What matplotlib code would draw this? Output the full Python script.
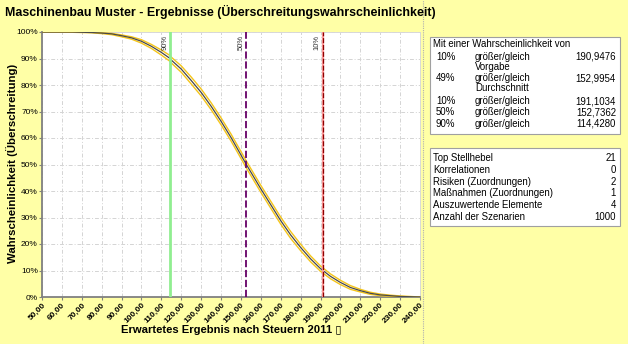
import matplotlib.pyplot as plt
from matplotlib.patches import Rectangle
from matplotlib.lines import Line2D
from matplotlib.ticker import FuncFormatter

plt.rcParams['font.family'] = ['Liberation Sans', 'DejaVu Sans']

# Exceedance curve (result vs. probability in %)
result = [50, 55, 60, 65, 70, 75, 80, 85, 90, 95, 100, 105, 110, 114.4, 115, 120,
          125, 130, 135, 140, 145, 150, 152.7, 155, 160, 165, 170, 175, 180, 185,
          190, 195, 200, 205, 210, 215, 220, 225, 230, 235, 240]
prob = [100, 100, 100, 100, 99.9, 99.8, 99.6, 99.3, 98.6, 97.8, 96.5, 94.6, 92.3,
        90.0, 89.4, 86.0, 81.7, 77.2, 72.0, 66.3, 60.2, 53.6, 50.0, 47.1, 40.8,
        34.8, 28.8, 23.4, 18.7, 14.4, 10.7, 7.8, 5.5, 3.6, 2.4, 1.4, 0.8, 0.5,
        0.2, 0.1, 0.0]
prob_upper = [100, 100, 100, 100, 100, 99.9, 99.7, 99.5, 98.9, 98.2, 97.1, 95.3,
              93.2, 91.1, 90.5, 87.2, 83.0, 78.5, 73.3, 67.6, 61.5, 54.9, 51.3,
              48.4, 42.1, 36.1, 30.1, 24.7, 19.9, 15.5, 11.7, 8.7, 6.3, 4.3, 2.9,
              1.8, 1.1, 0.7, 0.4, 0.2, 0.0]
prob_lower = [100, 100, 100, 99.9, 99.8, 99.7, 99.4, 99.0, 98.2, 97.3, 95.8, 93.8,
              91.3, 88.9, 88.3, 84.8, 80.4, 75.9, 70.7, 65.0, 58.9, 52.3, 48.7,
              45.8, 39.5, 33.5, 27.5, 22.1, 17.5, 13.3, 9.7, 6.9, 4.7, 2.9, 1.9,
              1.0, 0.5, 0.3, 0.1, 0.0, 0.0]

# Quantile markers
q_values = [114.4280, 152.7362, 191.1034]
q_labels = ['90%', '50%', '10%']

x_ticks = list(range(50, 250, 10))
y_ticks = list(range(0, 110, 10))

# Info boxes
prob_rows = [
    ('10%', 'größer/gleich', '190,9476'),
    ('', 'Vorgabe', ''),
    ('49%', 'größer/gleich', '152,9954'),
    ('', 'Durchschnitt', ''),
    ('10%', 'größer/gleich', '191,1034'),
    ('50%', 'größer/gleich', '152,7362'),
    ('90%', 'größer/gleich', '114,4280'),
]
stat_names = ['Top Stellhebel', 'Korrelationen', 'Risiken (Zuordnungen)',
              'Maßnahmen (Zuordnungen)', 'Auszuwertende Elemente', 'Anzahl der Szenarien']
stat_values = ['21', '0', '2', '1', '4', '1000']

bg = '#ffffa6'
W, H = 628, 344
fig = plt.figure(figsize=(W / 100, H / 100), dpi=100, facecolor=bg)


def fx(px):
    return px / W


def fy(py):
    return 1 - py / H


ax = fig.add_axes([fx(42), fy(297), fx(420) - fx(42), fy(32) - fy(297)])
ax.set_facecolor('white')

for xv in x_ticks:
    ax.axvline(xv, color='#d4d4d4', lw=0.7, ls=(0, (4, 2, 1, 2)), zorder=0)
for yv in y_ticks:
    ax.axhline(yv, color='#d4d4d4', lw=0.7, ls=(0, (4, 2, 1, 2)), zorder=0)

ax.plot(result, prob_upper, color='#f5c518', lw=1.0, zorder=3)
ax.plot(result, prob_lower, color='#f5c518', lw=1.0, zorder=3)
ax.plot(result, prob, color='#4a4a4a', lw=0.9, zorder=4)

ax.axvline(q_values[0], color='#90ee90', lw=2.0, zorder=5)
ax.axvline(q_values[1], color='#660066', lw=1.3, ls=(0, (4, 1.5)), zorder=5)
ax.axvline(q_values[2], color='#ff9999', lw=1.6, zorder=5)
ax.axvline(q_values[2], color='#8b0000', lw=0.9, ls=(0, (4, 1.5)), zorder=6)
for qv, ql in zip(q_values, q_labels):
    ax.text(qv - 1, 99, ql, rotation=90, ha='right', va='top', fontsize=5.5,
            color='#333333', zorder=7)

ax.set_xlim(50, 240)
ax.set_ylim(0, 100)
ax.set_xticks(x_ticks)
ax.set_yticks(y_ticks)
ax.xaxis.set_major_formatter(FuncFormatter(lambda v, p: f'{v:.2f}'.replace('.', ',')))
ax.yaxis.set_major_formatter(FuncFormatter(lambda v, p: f'{v:.0f}%'))
ax.tick_params(axis='x', labelsize=6, rotation=45, length=2, color='#808080', pad=1)
ax.tick_params(axis='y', labelsize=6, length=2, color='#808080', pad=1)
for lbl in ax.get_xticklabels():
    lbl.set_ha('right')
    lbl.set_rotation_mode('anchor')
    lbl.set_fontweight('bold')

for side in ['left', 'bottom']:
    ax.spines[side].set_color('#808080')
    ax.spines[side].set_linewidth(1.3)
for side in ['top', 'right']:
    ax.spines[side].set_color('#d8d8d8')
    ax.spines[side].set_linewidth(0.7)

fig.text(fx(5), fy(12), 'Maschinenbau Muster - Ergebnisse (Überschreitungswahrscheinlichkeit)',
         fontsize=8.9, fontweight='bold', va='center', ha='left')
fig.text(fx(12), fy(163), 'Wahrscheinlichkeit (Überschreitung)', rotation=90,
         fontsize=8.2, fontweight='bold', va='center', ha='center')
fig.text(fx(231), fy(330), 'Erwartetes Ergebnis nach Steuern 2011 ▯',
         fontsize=8.1, fontweight='bold', va='center', ha='center')

# dotted separator between chart and info panel
fig.add_artist(Line2D([fx(423), fx(423)], [0, 1], color='#b0b0b0', lw=0.8,
                      ls=(0, (1, 1))))

for top, bottom in [(37, 134), (148, 226)]:
    fig.add_artist(Rectangle((fx(430), fy(bottom)), fx(620) - fx(430),
                             fy(top) - fy(bottom), facecolor='white',
                             edgecolor='#a0a0a0', lw=0.8))

fs = 6.9
fig.text(fx(433), fy(44), 'Mit einer Wahrscheinlichkeit von', fontsize=fs, va='center')
row_y = [56.7, 66.7, 78.3, 88.3, 101, 112.3, 124]
for ry, (p, txt, val) in zip(row_y, prob_rows):
    fig.text(fx(436), fy(ry), p, fontsize=fs, va='center')
    fig.text(fx(475), fy(ry), txt, fontsize=fs, va='center')
    fig.text(fx(616), fy(ry), val, fontsize=fs, va='center', ha='right')

stat_y = [158, 170, 182, 193.5, 205.5, 217]
for sy, name, val in zip(stat_y, stat_names, stat_values):
    fig.text(fx(433), fy(sy), name, fontsize=fs, va='center')
    fig.text(fx(616), fy(sy), val, fontsize=fs, va='center', ha='right')

fig.savefig('out.png', dpi=100, facecolor=bg)
